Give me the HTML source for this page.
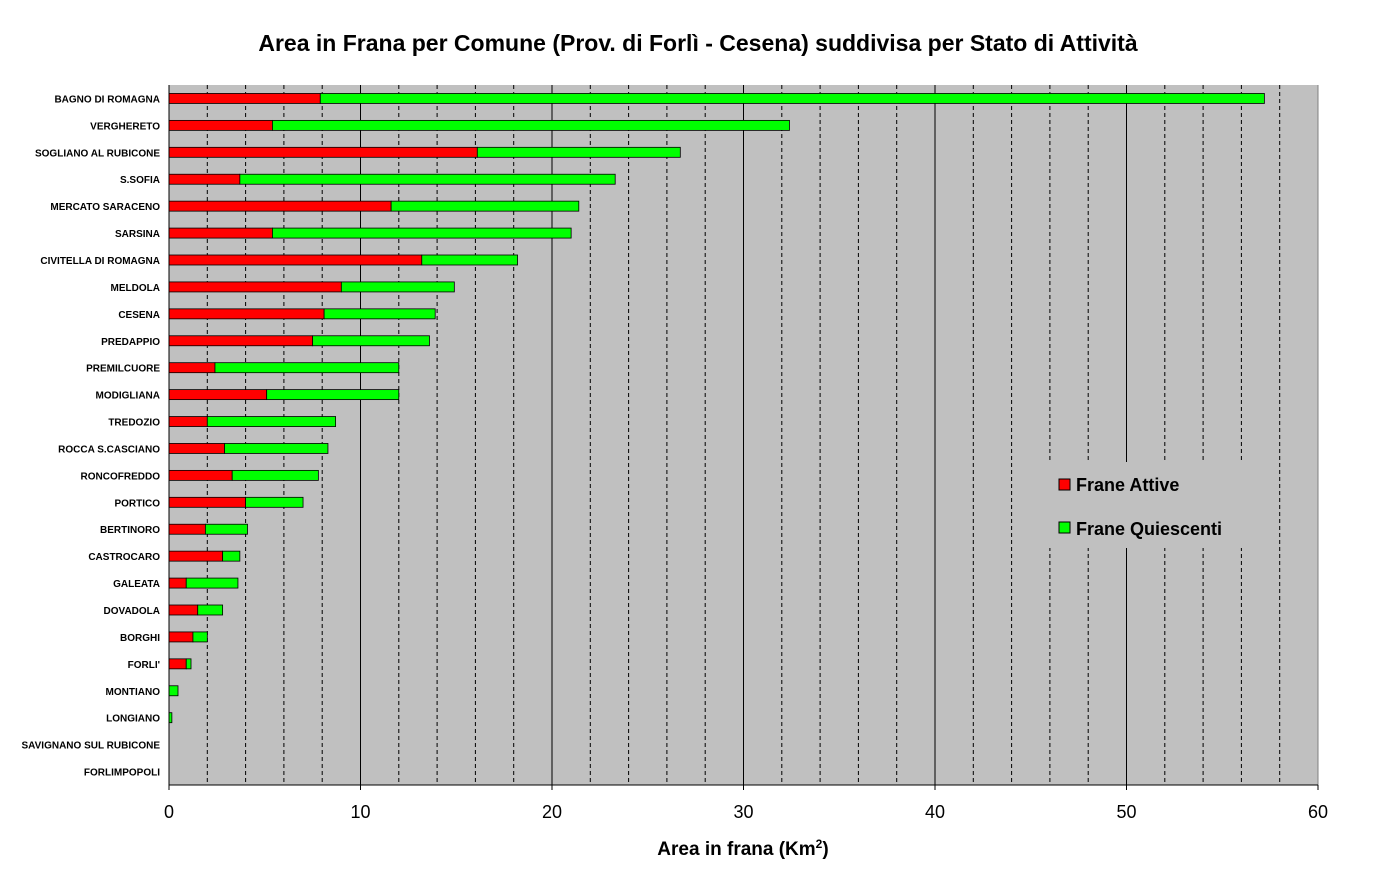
<!DOCTYPE html>
<html><head><meta charset="utf-8"><style>
body{margin:0;background:#fff;font-family:"Liberation Sans",Arial,sans-serif}
svg text{font-family:"Liberation Sans",Arial,sans-serif}
</style></head><body>
<svg id="chart" width="1396" height="872">
<text x="698" y="51" text-anchor="middle" font-size="23" font-weight="bold">Area in Frana per Comune (Prov. di Forlì - Cesena) suddivisa per Stato di Attività</text>
<rect x="169" y="85" width="1149" height="700" fill="#c0c0c0"/>
<g id="grid"></g><g id="bars"></g><g id="labels"></g><g id="ticks"></g>
<line x1="169" y1="85" x2="169" y2="785" stroke="#000"/>
<line x1="169" y1="785" x2="1318" y2="785" stroke="#000"/>
<text x="743" y="855" text-anchor="middle" font-size="19" font-weight="bold">Area in frana (Km<tspan dy="-7" font-size="12">2</tspan><tspan dy="7">)</tspan></text>
<g>
<rect x="1048" y="462" width="200" height="86" fill="#c0c0c0"/>
<rect x="1059" y="479" width="11" height="11" fill="#ff0000" stroke="#000"/>
<text x="1076" y="491" font-size="18" font-weight="bold">Frane Attive</text>
<rect x="1059" y="522" width="11" height="11" fill="#00ff00" stroke="#000"/>
<text x="1076" y="535" font-size="18" font-weight="bold">Frane Quiescenti</text>
</g>
</svg>
<script>
const categories=["BAGNO DI ROMAGNA","VERGHERETO","SOGLIANO AL RUBICONE","S.SOFIA","MERCATO SARACENO","SARSINA","CIVITELLA DI ROMAGNA","MELDOLA","CESENA","PREDAPPIO","PREMILCUORE","MODIGLIANA","TREDOZIO","ROCCA S.CASCIANO","RONCOFREDDO","PORTICO","BERTINORO","CASTROCARO","GALEATA","DOVADOLA","BORGHI","FORLI'","MONTIANO","LONGIANO","SAVIGNANO SUL RUBICONE","FORLIMPOPOLI"];
const attive=[7.9,5.4,16.1,3.7,11.6,5.4,13.2,9.0,8.1,7.5,2.4,5.1,2.0,2.9,3.3,4.0,1.9,2.8,0.9,1.5,1.25,0.9,0,0,0,0];
const quiescenti=[49.3,27.0,10.6,19.6,9.8,15.6,5.0,5.9,5.8,6.1,9.6,6.9,6.7,5.4,4.5,3.0,2.2,0.9,2.7,1.3,0.75,0.25,0.47,0.15,0,0];
const xTicks=[0,10,20,30,40,50,60];
const NS="http://www.w3.org/2000/svg";
const X0=169,X1=1318,Y0=85,Y1=785,XMAX=60;
const x=v=>X0+v/XMAX*(X1-X0);
const rowH=(Y1-Y0)/categories.length;
const yc=i=>Y0+rowH*(i+0.5);
function mk(t,a,p){const e=document.createElementNS(NS,t);for(const k in a)e.setAttribute(k,a[k]);p.appendChild(e);return e;}
const grid=document.getElementById('grid');
for(let v=2;v<XMAX;v+=2){
 const l=mk('line',{x1:x(v),x2:x(v),y1:Y0,y2:Y1,stroke:'#000','stroke-width':1,'stroke-dasharray':v%10===0?'none':'4,3'},grid);
 
 
}
mk('line',{x1:X1,x2:X1,y1:Y0,y2:Y1,stroke:'#808080'},grid);
const bars=document.getElementById('bars'),labels=document.getElementById('labels');
categories.forEach((c,i)=>{
 const h=10,y=yc(i)-h/2;
 if(attive[i]>0){const r=mk('rect',{x:x(0),y:y,width:x(attive[i])-x(0),height:h,fill:'#ff0000',stroke:'#000','stroke-width':0.8},bars);
 
 }
 if(quiescenti[i]>0){const g=mk('rect',{x:x(attive[i]),y:y,width:x(attive[i]+quiescenti[i])-x(attive[i]),height:h,fill:'#00ff00',stroke:'#000','stroke-width':0.8},bars);
 
 }
 const t=mk('text',{x:160,y:yc(i)+4,'text-anchor':'end','font-size':10,'font-weight':'bold'},labels);
 t.textContent=c;
 
 
});
const ticks=document.getElementById('ticks');
xTicks.forEach(v=>{
 mk('line',{x1:x(v),x2:x(v),y1:Y1,y2:Y1+5,stroke:'#000'},ticks);
 const t=mk('text',{x:x(v),y:818,'text-anchor':'middle','font-size':18},ticks);
 t.textContent=v;
 
 
});
</script>
</body></html>
